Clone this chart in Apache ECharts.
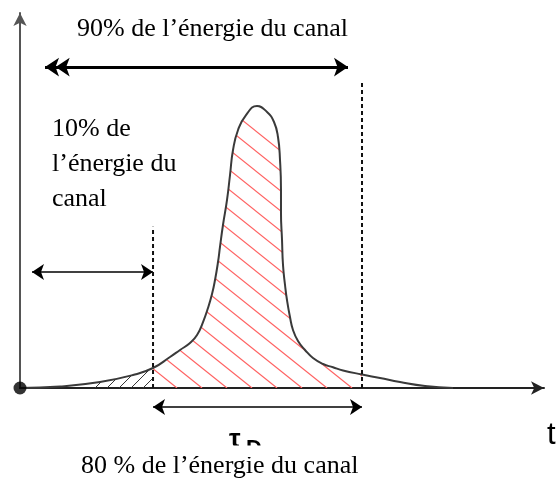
<!DOCTYPE html>
<html><head><meta charset="utf-8">
<script src="https://cdn.jsdelivr.net/npm/echarts@6/dist/echarts.min.js"></script>
<style>html,body{margin:0;padding:0;background:#fff}#c{width:557px;height:491px}</style>
</head><body><div id="c"></div>
<script>
// ---- data (x: time, y: power, arbitrary units) ----
const curveX = [0, 7.74, 15.47, 21.86, 25.73, 29.01, 30.95, 32.88, 34.24, 35.40, 36.36, 37.14, 37.72, 38.30, 38.68, 39.26, 40.04, 40.62, 41.20, 42.17, 43.71, 45.84, 47.78, 49.13, 49.90, 50.29, 50.48, 50.48, 50.68, 50.87, 51.26, 51.64, 52.22, 52.80, 53.77, 55.13, 56.67, 58.61, 60.54, 62.48, 66.15, 69.63, 73.50, 78.34, 83.75];
const curveY = [0, 0.41, 1.63, 3.53, 5.43, 8.42, 10.33, 12.23, 14.40, 17.93, 21.74, 25.54, 29.35, 34.24, 38.32, 44.29, 51.09, 57.88, 64.67, 70.11, 74.18, 76.63, 75.00, 72.28, 68.21, 61.96, 53.80, 47.55, 40.22, 33.42, 27.99, 23.91, 19.29, 15.76, 12.77, 10.33, 8.15, 6.52, 5.63, 4.76, 3.67, 2.72, 1.63, 0.54, 0];
const xMax = 101.35, yMax = 101.9;
const hatchStartX = 13.5;   // start of black hatching
const tenPctX = 25.73;      // 10 % energy boundary
const ninetyPctX = 66.15;   // 90 % energy boundary
const dashTops = [43.8, 83.7];
const arrowTop = {y: 87.2, x: [4.84, 63.44], x2: 6.9};
const arrowLeft = {y: 31.5, x: [2.32, 25.73]};
const texts = {
  top: '90% de l\u2019énergie du canal',
  left: '10% de\nl\u2019énergie du\ncanal',
  bottom: '80 % de l\u2019énergie du canal',
  axis: 't',
  tau: '\u03c4',
  tauSub: 'D'
};

const curve = curveX.map((x, i) => [x, curveY[i]]);
const chart = echarts.init(document.getElementById('c'), null, {renderer: 'canvas'});

function arrowSeries(from, to, startSym, endSym, width, size, gridIdx) {
  return {
    type: 'line', data: [], clip: false, silent: true,
    xAxisIndex: gridIdx || 0, yAxisIndex: gridIdx || 0,
    markLine: {
      silent: true, animation: false,
      label: {show: false},
      symbol: [startSym, endSym],
      symbolSize: size,
      lineStyle: {color: '#000', width: width, type: 'solid'},
      data: [[{coord: from}, {coord: to}]]
    }
  };
}
const hidden = {show: false};

const option = {
  animation: false,
  backgroundColor: '#fff',
  grid: [
    {left: 20, right: 13, top: 13, bottom: 103},
    {left: 20, right: 13, top: 397, height: 20}
  ],
  xAxis: [{
    type: 'value', min: 0, max: xMax, gridIndex: 0,
    axisLine: {show: true, onZero: false, symbol: ['none', 'arrow'], symbolSize: [10, 13], lineStyle: {color: '#222', width: 2}},
    axisTick: hidden, axisLabel: hidden, splitLine: hidden
  }, {
    type: 'value', min: 0, max: xMax, gridIndex: 1,
    axisLine: hidden, axisTick: hidden, axisLabel: hidden, splitLine: hidden
  }],
  yAxis: [{
    type: 'value', min: 0, max: yMax, gridIndex: 0,
    axisLine: {show: true, onZero: false, symbol: ['none', 'arrow'], symbolSize: [10, 13], lineStyle: {color: '#555', width: 2}},
    axisTick: hidden, axisLabel: hidden, splitLine: hidden
  }, {
    type: 'value', min: -1, max: 1, gridIndex: 1,
    axisLine: hidden, axisTick: hidden, axisLabel: hidden, splitLine: hidden
  }],
  series: [
    {
      id: 'curve', type: 'line', data: curve, smooth: 0.5, showSymbol: false, z: 5,
      lineStyle: {color: '#3a3a3a', width: 2},
      areaStyle: {color: 'rgba(0,0,0,0)'}
    },
    {type: 'line', data: [[tenPctX, 0], [tenPctX, dashTops[0]]], showSymbol: false, z: 6,
     lineStyle: {color: '#111', width: 2, type: [4, 3]}},
    {type: 'line', data: [[ninetyPctX, 0], [ninetyPctX, dashTops[1]]], showSymbol: false, z: 6,
     lineStyle: {color: '#111', width: 2, type: [4, 3]}},
    arrowSeries([arrowTop.x[0], arrowTop.y], [arrowTop.x[1], arrowTop.y], 'arrow', 'arrow', 3, [14, 14]),
    arrowSeries([arrowTop.x2, arrowTop.y], [arrowTop.x[1], arrowTop.y], 'arrow', 'none', 3, [14, 14]),
    arrowSeries([arrowLeft.x[0], arrowLeft.y], [arrowLeft.x[1], arrowLeft.y], 'arrow', 'arrow', 1.6, [12, 12]),
    arrowSeries([tenPctX, 0], [ninetyPctX, 0], 'arrow', 'arrow', 1.6, [12, 12], 1),
    {type: 'scatter', data: [[0, 0]], symbolSize: 13, itemStyle: {color: '#000'}, z: 10, clip: false}
  ],
  graphic: [
    {type: 'text', style: {x: 77, y: 29, text: texts.top, font: '26px "Liberation Serif"', fill: '#000', textVerticalAlign: 'middle'}},
    {type: 'text', style: {x: 52, y: 112, text: texts.left, font: '26px "Liberation Serif"', lineHeight: 35, fill: '#000', textVerticalAlign: 'top'}},
    {type: 'text', style: {x: 81, y: 466, text: texts.bottom, font: '26px "Liberation Serif"', fill: '#000', textVerticalAlign: 'middle'}},
    {type: 'text', style: {x: 547, y: 435, text: texts.axis, font: '31px "Liberation Sans"', fill: '#000', textVerticalAlign: 'middle'}},
    {type: 'text', style: {x: 229, y: 439.5, text: texts.tau, font: 'bold 26px "Liberation Sans"', fill: '#000', textVerticalAlign: 'middle'}},
    {type: 'text', style: {x: 246, y: 449, text: texts.tauSub, font: 'bold 22px "Liberation Sans"', fill: '#000', textVerticalAlign: 'middle'}},
    {type: 'rect', shape: {x: 220, y: 445.5, width: 52, height: 11.5}, style: {fill: '#fff'}, z: 100}
  ]
};
chart.setOption(option);

// ---- hatching pattern, boundaries taken from the axes ----
function buildHatch() {
  const W = chart.getWidth(), H = chart.getHeight();
  const cv = document.createElement('canvas');
  cv.width = W; cv.height = H;
  const ctx = cv.getContext('2d');
  const p0 = chart.convertToPixel({gridIndex: 0}, [hatchStartX, 0]);
  const p1 = chart.convertToPixel({gridIndex: 0}, [tenPctX, 0]);
  const p2 = chart.convertToPixel({gridIndex: 0}, [ninetyPctX, 0]);
  const axisY = p1[1];
  // red "\" lines
  ctx.save();
  ctx.beginPath(); ctx.rect(p1[0], 0, p2[0] - p1[0], axisY); ctx.clip();
  ctx.strokeStyle = '#ff6262'; ctx.lineWidth = 1.2;
  const slope = 0.8, step = 25;
  for (let xa = p1[0] + 24 - step * 30; xa < W + step; xa += step) {
    ctx.beginPath();
    ctx.moveTo(xa, axisY);
    ctx.lineTo(xa - axisY / slope, 0);
    ctx.stroke();
  }
  ctx.restore();
  // black "/" lines
  ctx.save();
  ctx.beginPath(); ctx.rect(p0[0], 0, p1[0] - p0[0], axisY); ctx.clip();
  ctx.strokeStyle = '#333'; ctx.lineWidth = 1;
  const step2 = 12;
  for (let xa = p1[0] - 10; xa > p0[0] - 400; xa -= step2) {
    ctx.beginPath();
    ctx.moveTo(xa, axisY);
    ctx.lineTo(xa + axisY, 0);
    ctx.stroke();
  }
  ctx.restore();
  chart.setOption({series: [{id: 'curve', areaStyle: {color: {image: cv, repeat: 'no-repeat'}, opacity: 1}}]});
}
buildHatch();
</script>
</body></html>
